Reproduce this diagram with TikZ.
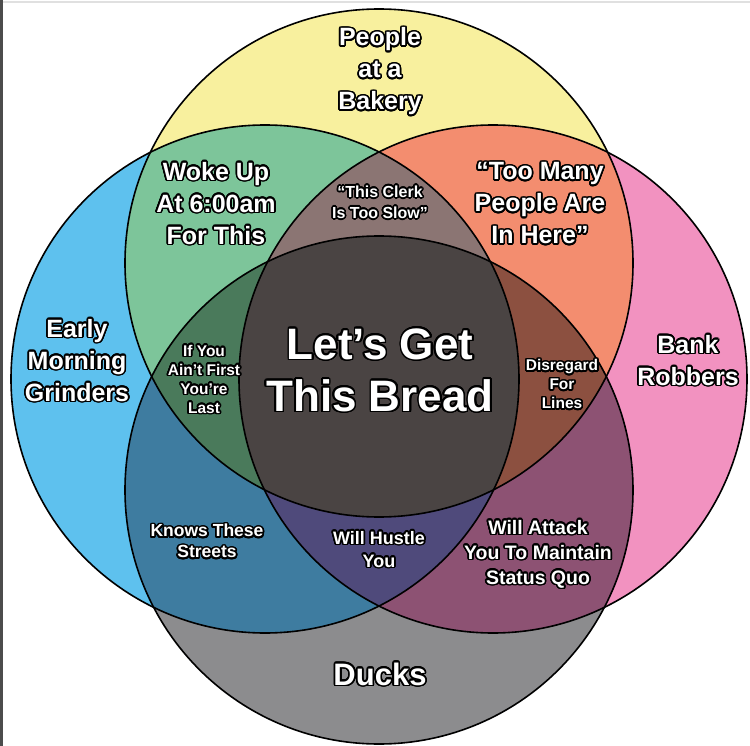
\documentclass[tikz,border=0pt]{standalone}
\usepackage{fontspec}
\setmainfont{Liberation Sans}
\usepackage[copies]{contour}
\contourlength{1.6pt}
\contournumber{24}
\usepackage{tikz}
\usetikzlibrary{positioning}
\definecolor{vyellow}{HTML}{F8F09E}
\definecolor{vblue}{HTML}{5EC1EE}
\definecolor{vpink}{HTML}{F292C0}
\definecolor{vgray}{HTML}{8C8C8E}
\definecolor{vgreen}{HTML}{7DC59A}
\definecolor{vsalmon}{HTML}{F38D6F}
\definecolor{vtaupe}{HTML}{8B7573}
\definecolor{vdark}{HTML}{4A4443}
\definecolor{vdkgreen}{HTML}{4A7A5B}
\definecolor{vbrown}{HTML}{8C5040}
\definecolor{vsteel}{HTML}{3E7CA0}
\definecolor{vpurple}{HTML}{4F4A7B}
\definecolor{vmauve}{HTML}{8D5273}
\tikzset{
  ring/.style={draw=black,line width=1.6pt},
  lbl/.style={text=white,align=center,inner sep=0pt,font=\bfseries\fontsize{25}{32}\selectfont},
  midlbl/.style={lbl,font=\bfseries\fontsize{18}{23}\selectfont},
  smalllbl/.style={lbl,font=\bfseries\fontsize{15.5}{19}\selectfont},
  breadlbl/.style={lbl,font=\bfseries\fontsize{44}{52}\selectfont}
}
\newcommand\ol[1]{\contour{black}{#1}}
\def\yellowc{(379,263) circle (254pt)}
\def\bluec{(265,379) circle (254pt)}
\def\pinkc{(493,379) circle (254pt)}
\def\grayc{(379,490) circle (254pt)}
\begin{document}
\begin{tikzpicture}[x=1pt,y=-1pt]
\useasboundingbox (0,0) rectangle (750,746);
\fill[white] (0,0) rectangle (750,746);
\fill[black!70] (0,0) rectangle (3,746);
\fill[black!12] (3,1.5) rectangle (750,3);
% four sets
\fill[vyellow] \yellowc;
\fill[vblue] \bluec;
\fill[vpink] \pinkc;
\fill[vgray] \grayc;
% pairs
\begin{scope}\clip \yellowc; \fill[vgreen] \bluec; \fill[vsalmon] \pinkc; \end{scope}
\begin{scope}\clip \grayc; \fill[vsteel] \bluec; \fill[vmauve] \pinkc; \end{scope}
% triples
\begin{scope}\clip \yellowc; \clip \bluec; \fill[vtaupe] \pinkc; \fill[vdkgreen] \grayc; \end{scope}
\begin{scope}\clip \grayc; \clip \pinkc; \fill[vpurple] \bluec; \fill[vbrown] \yellowc; \end{scope}
% all four
\begin{scope}\clip \yellowc; \clip \bluec; \clip \pinkc; \fill[vdark] \grayc; \end{scope}
\draw[ring] \yellowc;
\draw[ring] \bluec;
\draw[ring] \pinkc;
\draw[ring] \grayc;
% labels
\node[lbl] (bakery) at (380,72) {\ol{People}\\\ol{at a}\\\ol{Bakery}};
\node[lbl] (early) at (77,361) {\ol{Early}\\\ol{Morning}\\\ol{Grinders}};
\node[lbl] (bank) at (688,361) {\ol{Bank}\\\ol{Robbers}};
\node[lbl,font=\bfseries\fontsize{31}{36}\selectfont] (ducks) at (380,675) {\ol{Ducks}};
\node[lbl] (woke) at (216,204) {\ol{Woke Up}\\\ol{At 6:00am}\\\ol{For This}};
\node[smalllbl,font=\bfseries\fontsize{16}{21}\selectfont] (clerk) at (380,203) {\ol{“This Clerk}\\\ol{Is Too Slow”}};
\node[lbl] (toomany) at (540,204) {\ol{“Too Many}\\\ol{People Are}\\\ol{In Here”}};
\node[smalllbl] (ifyou) at (204,380) {\ol{If You}\\\ol{Ain't First}\\\ol{You're}\\\ol{Last}};
\node[breadlbl] (bread) at (380,371) {\ol{Let’s Get}\\\ol{This Bread}};
\node[smalllbl] (disregard) at (562,385) {\ol{Disregard}\\\ol{For}\\\ol{Lines}};
\node[midlbl,font=\bfseries\fontsize{17.5}{21}\selectfont] (knows) at (207,542) {\ol{Knows These}\\\ol{Streets}};
\node[midlbl] (hustle) at (379,550) {\ol{Will Hustle}\\\ol{You}};
\node[midlbl,font=\bfseries\fontsize{19.5}{25}\selectfont] (attack) at (538,555) {\ol{Will Attack}\\\ol{You To Maintain}\\\ol{Status Quo}};
\end{tikzpicture}
\end{document}
